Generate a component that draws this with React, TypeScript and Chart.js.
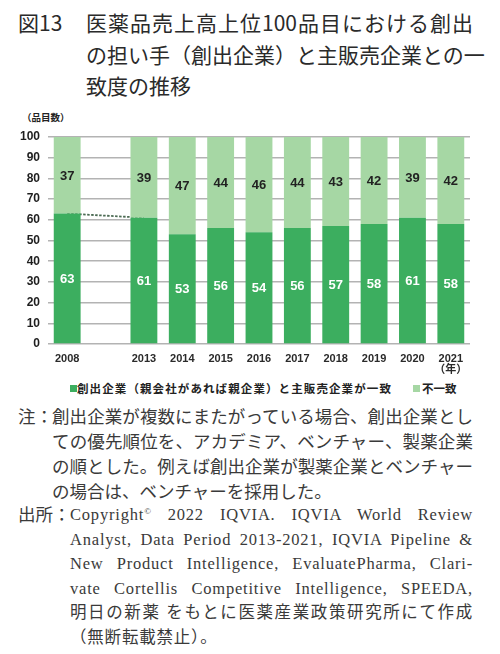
import React, { useEffect, useRef } from "react";
import { Chart, registerables } from "chart.js";

Chart.register(...registerables);

// 年次（2008年の次は空き枠を入れて2013年以降へ）
const yearLabels: (string | string[])[] = [
  "2008", "", "2013", "2014", "2015", "2016", "2017", "2018", "2019", "2020", ["2021", "（年）"],
];
// 創出企業と主販売企業が一致
const matchCounts: (number | null)[] = [63, null, 61, 53, 56, 54, 56, 57, 58, 61, 58];
// 不一致
const mismatchCounts: (number | null)[] = [37, null, 39, 47, 44, 46, 44, 43, 42, 39, 42];
const yTicks = [0, 10, 20, 30, 40, 50, 60, 70, 80, 90, 100];

// 2008→2013 をつなぐ点線
const connector = matchCounts.map((v, i) => (i <= 2 ? v : null));

const DARK = "#3cae5f";
const LIGHT = "#a6d7a4";
const SANS = '"Liberation Sans", Arial, "Noto Sans CJK JP", sans-serif';
const CJK = '"Noto Sans CJK JP", sans-serif';
const SERIF = '"Liberation Serif", "Noto Sans CJK JP", serif';

const valueLabels = {
  id: "valueLabels",
  afterDatasetsDraw(chart: any) {
    const ctx = chart.ctx;
    ctx.save();
    ctx.font = `bold 13px ${SANS}`;
    ctx.textAlign = "center";
    ctx.textBaseline = "middle";
    [0, 1].forEach((di) => {
      const meta = chart.getDatasetMeta(di);
      const data = chart.data.datasets[di].data;
      meta.data.forEach((el: any, i: number) => {
        const v = data[i];
        if (v == null) return;
        const { x, y, base } = el.getProps(["x", "y", "base"], true);
        ctx.fillStyle = di === 0 ? "#ffffff" : "#222222";
        ctx.fillText(String(v), x, (y + base) / 2 + 1);
      });
    });
    ctx.restore();
  },
};

function BarChart() {
  const canvasRef = useRef<HTMLCanvasElement>(null);

  useEffect(() => {
    if (!canvasRef.current) return;
    const chart = new Chart(canvasRef.current, {
      type: "bar",
      data: {
        labels: yearLabels,
        datasets: [
          {
            label: "一致",
            data: matchCounts,
            backgroundColor: DARK,
            stack: "s",
            order: 1,
            categoryPercentage: 1,
            barPercentage: 0.7,
          },
          {
            label: "不一致",
            data: mismatchCounts,
            backgroundColor: LIGHT,
            stack: "s",
            order: 1,
            categoryPercentage: 1,
            barPercentage: 0.7,
          },
          {
            type: "line",
            label: "connector",
            data: connector,
            borderColor: "#4a6a52",
            borderWidth: 1.8,
            borderDash: [2.5, 1.5],
            pointRadius: 0,
            spanGaps: true,
            stack: "line",
            order: 2,
          } as any,
        ],
      },
      options: {
        animation: false,
        responsive: false,
        maintainAspectRatio: false,
        layout: { padding: { top: 37, right: 30, left: 0, bottom: 0 } },
        plugins: {
          legend: { display: false },
          tooltip: { enabled: false },
        },
        scales: {
          x: {
            stacked: true,
            grid: { display: false, drawTicks: false },
            border: { display: false },
            ticks: {
              color: "#2a2a2a",
              padding: 9,
              maxRotation: 0,
              autoSkip: false,
              font: { family: SANS, weight: "bold", size: 11, lineHeight: 1 },
            },
            afterFit: (s: any) => {
              s.height = 31;
            },
          },
          y: {
            stacked: true,
            min: 0,
            max: 100,
            grid: { color: "#b3b3b3", lineWidth: 1.5, drawTicks: false },
            border: { display: false },
            afterBuildTicks: (s: any) => {
              s.ticks = yTicks.map((v) => ({ value: v }));
            },
            ticks: {
              color: "#1e1e1e",
              padding: 8,
              font: { family: SANS, weight: "bold", size: 12 },
            },
            afterFit: (s: any) => {
              s.width = 48;
            },
          },
        },
      },
      plugins: [valueLabels],
    });
    return () => chart.destroy();
  }, []);

  return (
    <canvas
      ref={canvasRef}
      width={500}
      height={275}
      style={{ position: "absolute", left: 0, top: 100, width: 500, height: 275 }}
    />
  );
}

const titleLines = [
  "医薬品売上高上位100品目における創出",
  "の担い手（創出企業）と主販売企業との一",
  "致度の推移",
];
const noteLines = [
  "創出企業が複数にまたがっている場合、創出企業とし",
  "ての優先順位を、アカデミア、ベンチャー、製薬企業",
  "の順とした。例えば創出企業が製薬企業とベンチャー",
  "の場合は、ベンチャーを採用した。",
];
const sourceLines: React.ReactNode[] = [
  <>Copyright<sup style={{ fontSize: 9, verticalAlign: 6, lineHeight: 0 }}>©</sup> 2022 IQVIA. IQVIA World Review</>,
  "Analyst, Data Period 2013-2021, IQVIA Pipeline &",
  "New Product Intelligence, EvaluatePharma, Clari-",
  "vate Cortellis Competitive Intelligence, SPEEDA,",
  "明日の新薬 をもとに医薬産業政策研究所にて作成",
  "（無断転載禁止）。",
];

export default function App() {
  const titleTops = [7, 39, 70];
  return (
    <div
      lang="ja"
      style={{
        position: "fixed",
        left: 0,
        top: 0,
        width: 500,
        height: 654,
        background: "#ffffff",
        overflow: "hidden",
        fontFamily: CJK,
      }}
    >
      <div
        style={{
          position: "absolute",
          left: 18,
          top: titleTops[0],
          fontSize: 21,
          lineHeight: "31px",
          fontWeight: 400,
          color: "#2a2a2a",
          fontFamily: CJK,
        }}
      >
        図13
      </div>
      {titleLines.map((t, i) => (
        <div
          key={i}
          style={{
            position: "absolute",
            left: 86,
            top: titleTops[i],
            width: 387,
            fontSize: 21,
            lineHeight: "31px",
            fontWeight: 400,
            color: "#2a2a2a",
            whiteSpace: "nowrap",
            textAlign: "left",
            textAlignLast: i < 2 ? "justify" : "left",
          }}
        >
          {t}
        </div>
      ))}

      <div
        style={{
          position: "absolute",
          left: 22,
          top: 111,
          fontSize: 9.5,
          lineHeight: "12px",
          fontWeight: "bold",
          color: "#222",
        }}
      >
        （品目数）
      </div>

      <BarChart />

      <div style={{ position: "absolute", left: 70, top: 381, height: 14, width: 420 }}>
        <span style={{ position: "absolute", left: 0, top: 3.5, width: 7, height: 7, background: DARK }} />
        <div
          style={{
            position: "absolute",
            left: 7,
            top: 0,
            fontSize: 11.5,
            letterSpacing: 1.1,
            lineHeight: "14px",
            fontWeight: "bold",
            color: "#222",
            whiteSpace: "nowrap",
          }}
        >
          創出企業（親会社があれば親企業）と主販売企業が一致
        </div>
        <span style={{ position: "absolute", left: 343, top: 3.5, width: 7, height: 7, background: LIGHT }} />
        <div
          style={{
            position: "absolute",
            left: 352,
            top: 0,
            fontSize: 11.5,
            lineHeight: "14px",
            fontWeight: "bold",
            color: "#222",
            whiteSpace: "nowrap",
          }}
        >
          不一致
        </div>
      </div>

      <div style={{ position: "absolute", left: 18, top: 405, fontSize: 17.5, lineHeight: "25px", color: "#3a3a3a", fontFamily: SERIF }}>
        注：
      </div>
      {noteLines.map((t, i) => (
        <div
          key={i}
          style={{
            position: "absolute",
            left: 52,
            top: 405 + i * 25,
            width: 421,
            fontSize: 17.5,
            lineHeight: "25px",
            color: "#3a3a3a",
            fontFamily: SERIF,
            whiteSpace: "nowrap",
            textAlignLast: i < noteLines.length - 1 ? "justify" : "left",
          }}
        >
          {t}
        </div>
      ))}

      <div style={{ position: "absolute", left: 18, top: 503, fontSize: 17.5, lineHeight: "24.5px", color: "#3a3a3a", fontFamily: SERIF }}>
        出所：
      </div>
      {sourceLines.map((t, i) => (
        <div
          key={i}
          style={{
            position: "absolute",
            left: 70,
            top: 503 + i * 24.5,
            width: 403,
            fontSize: 16.5,
            letterSpacing: 0.8,
            lineHeight: "24.5px",
            color: "#3a3a3a",
            fontFamily: SERIF,
            whiteSpace: "nowrap",
            textAlignLast: i < sourceLines.length - 1 ? "justify" : "left",
          }}
        >
          {t}
        </div>
      ))}
    </div>
  );
}
